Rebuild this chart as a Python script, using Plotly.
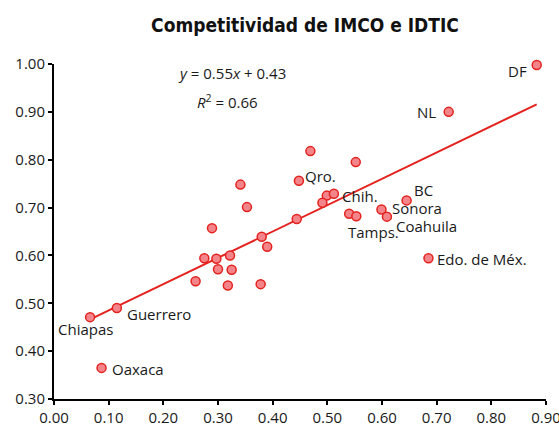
import plotly.graph_objects as go

# Data (x: IMCO, y: IDTIC)
imco = [0.883, 0.722, 0.469, 0.552, 0.448, 0.499, 0.512, 0.491, 0.444, 0.540,
        0.553, 0.645, 0.599, 0.609, 0.685, 0.341, 0.353, 0.289, 0.275, 0.297,
        0.322, 0.300, 0.325, 0.259, 0.318, 0.378, 0.380, 0.390, 0.066, 0.115,
        0.087]
idtic = [0.998, 0.900, 0.818, 0.795, 0.756, 0.725, 0.729, 0.710, 0.676, 0.687,
         0.682, 0.715, 0.696, 0.681, 0.594, 0.748, 0.701, 0.657, 0.594, 0.593,
         0.600, 0.571, 0.570, 0.546, 0.537, 0.540, 0.639, 0.618, 0.471, 0.490,
         0.365]
names = ["DF", "NL", "", "", "Qro.", "", "Chih.", "", "", "",
         "Tamps.", "BC", "Sonora", "Coahuila", "Edo. de Méx.", "", "", "", "", "",
         "", "", "", "", "", "", "", "", "Chiapas", "Guerrero",
         "Oaxaca"]

slope = 0.55
intercept = 0.43
r2 = 0.66

x_ticks = [0.0, 0.1, 0.2, 0.3, 0.4, 0.5, 0.6, 0.7, 0.8, 0.9]
y_ticks = [0.3, 0.4, 0.5, 0.6, 0.7, 0.8, 0.9, 1.0]

# label placement (anchor, xshift px, yshift px)
label_pos = {
    "DF": ("right", -8, -6),
    "NL": ("right", -11, 0),
    "Qro.": ("left", 4, 5),
    "Chih.": ("left", 6, -2),
    "BC": ("left", 5, 10),
    "Sonora": ("left", 9, 1),
    "Coahuila": ("left", 7, -9),
    "Tamps.": ("left", -10, -16),
    "Edo. de Méx.": ("left", 7, -1),
    "Guerrero": ("left", 8, -6),
    "Chiapas": ("center", -5, -12),
    "Oaxaca": ("left", 8, -1),
}

FONT = "Open Sans, Noto Sans, sans-serif"

fig = go.Figure()

x_line = [min(imco), max(imco)]
y_line = [slope * v + intercept for v in x_line]
fig.add_trace(go.Scatter(x=x_line, y=y_line, mode="lines",
                         line=dict(color="#E3221E", width=2),
                         hoverinfo="skip", showlegend=False, cliponaxis=False))

fig.add_trace(go.Scatter(x=imco, y=idtic, mode="markers",
                         marker=dict(size=9, color="#F3858A",
                                     line=dict(color="#E3221E", width=1.5)),
                         text=names, showlegend=False, cliponaxis=False))

annotations = []
for xv, yv, nm in zip(imco, idtic, names):
    if not nm:
        continue
    anc, dx, dy = label_pos[nm]
    annotations.append(dict(x=xv, y=yv, xref="x", yref="y", text=nm,
                            showarrow=False, xanchor=anc, yanchor="middle",
                            xshift=dx, yshift=dy,
                            font=dict(family=FONT, size=15, color="#1a1a1a")))

annotations.append(dict(x=0.325, y=0.982, xref="x", yref="y",
                        text="<i>y</i> = %.2f<i>x</i> + %.2f" % (slope, intercept),
                        showarrow=False, xanchor="center", yanchor="middle",
                        font=dict(family=FONT, size=15, color="#1a1a1a")))
annotations.append(dict(x=0.317, y=0.921, xref="x", yref="y",
                        text="<i>R</i><sup>2</sup> = %.2f" % r2,
                        showarrow=False, xanchor="center", yanchor="middle",
                        font=dict(family=FONT, size=15, color="#1a1a1a")))

fig.update_layout(
    width=559, height=428,
    margin=dict(l=54, r=13, t=64, b=29, autoexpand=False),
    paper_bgcolor="white", plot_bgcolor="white",
    title=dict(text="<b>Competitividad de IMCO e IDTIC</b>",
               x=305 / 559, xref="container", xanchor="center",
               y=1 - 25 / 428, yref="container", yanchor="middle",
               font=dict(family="Liberation Sans Narrow, DejaVu Sans Condensed, sans-serif",
                         size=19, color="#111111")),
    annotations=annotations,
    font=dict(family=FONT, size=15, color="#1a1a1a"),
)

fig.update_xaxes(range=[0, 0.9], tickvals=x_ticks,
                 ticktext=["%.2f" % v for v in x_ticks],
                 showgrid=False, zeroline=False, showline=True,
                 linecolor="black", linewidth=2, ticks="outside",
                 ticklen=4, tickwidth=2, tickcolor="black", automargin=False,
                 ticklabeloverflow="allow",
                 tickfont=dict(family=FONT, size=15, color="#1a1a1a"))
fig.update_yaxes(range=[0.3, 1.0], tickvals=y_ticks,
                 ticktext=["%.2f" % v for v in y_ticks],
                 showgrid=False, zeroline=False, showline=True,
                 linecolor="black", linewidth=2, ticks="outside",
                 ticklen=4, tickwidth=2, tickcolor="black", automargin=False,
                 ticklabeloverflow="allow",
                 tickfont=dict(family=FONT, size=15, color="#1a1a1a"))

fig.write_html("out.html",
               config={"displayModeBar": False},
               post_script="document.body.style.margin='0px';"
                           "document.body.style.overflow='hidden';")
